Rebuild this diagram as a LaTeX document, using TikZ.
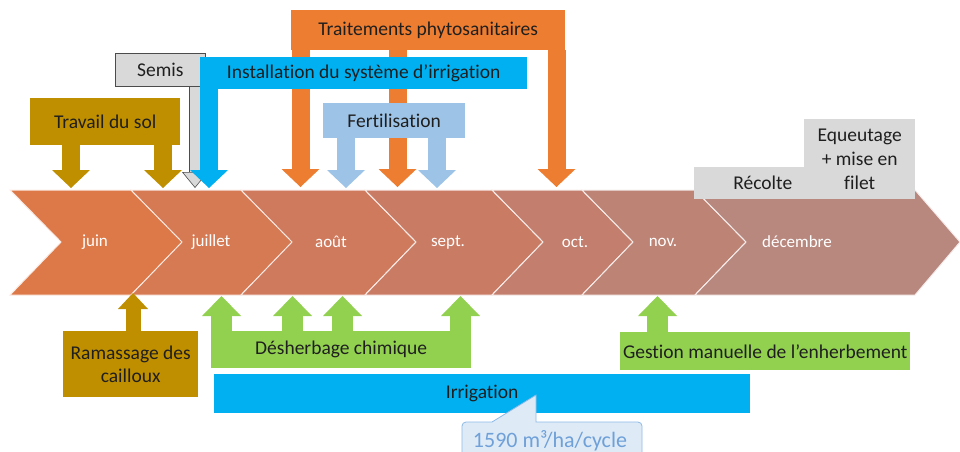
\documentclass[tikz,border=0pt]{standalone}
\usepackage{fontspec}
\setmainfont{Carlito}[Ligatures=NoCommon]
\usetikzlibrary{arrows.meta}
\definecolor{cropGold}{HTML}{BF8F00}
\definecolor{cropGreen}{HTML}{92D050}
\definecolor{cropBlue}{HTML}{00B0F0}
\definecolor{cropOrange}{HTML}{ED7D31}
\definecolor{cropFert}{HTML}{9DC3E6}
\definecolor{cropGray}{HTML}{D9D9D9}
\definecolor{calloutFill}{HTML}{DEEBF7}
\definecolor{calloutLine}{HTML}{8DB9E6}
\definecolor{calloutText}{HTML}{6FA0D8}
\definecolor{mJuin}{HTML}{DD7948}
\definecolor{mJuil}{HTML}{D67A53}
\definecolor{mAout}{HTML}{D07A5D}
\definecolor{mSept}{HTML}{CA7B64}
\definecolor{mOct}{HTML}{C37E6D}
\definecolor{mNov}{HTML}{BD8375}
\definecolor{mDec}{HTML}{B8887F}

\begin{document}
\begin{tikzpicture}[x=1pt, y=-1pt,
  every node/.style={font=\fontsize{19.5}{23}\selectfont, text=black!88, inner sep=0pt},
  taskbox/.style={fill=#1, anchor=north west},
  monthlabel/.style={text=white, font=\fontsize{17}{20}\selectfont},
  fatdown/.style={draw=#1, line width=18pt, -{Triangle[line width=0pt, width=38pt, length=18pt]}},
  fatup/.style={draw=#1, line width=21pt, -{Triangle[line width=0pt, width=39pt, length=20pt]}}]
  \clip (0,0) rectangle (960,451);
  % frise des mois
  \foreach \l/\r/\d/\c in {10/131/52/mJuin, 131/241/52/mJuil, 241/365/51/mAout,
      365/492/51/mSept, 492/582/51/mOct, 582/695/51/mNov, 695/915/45/mDec}
    \filldraw[fill=\c, draw=white!85!\c, line width=1pt]
      (\l,190) -- (\r,190) -- (\r+\d,242) -- (\r,295) -- (\l,295) -- (\l+51,242) -- cycle;
  \node[monthlabel] (juin) at (95,242) {juin};
  \node[monthlabel] (juillet) at (211,242) {juillet};
  \node[monthlabel] (aout) at (331,242) {août};
  \node[monthlabel] (sept) at (448,242) {sept.};
  \node[monthlabel] (oct) at (575,242) {oct.};
  \node[monthlabel] (nov) at (663,242) {nov.};
  \node[monthlabel] (dec) at (797,242) {décembre};

  % interventions au-dessus
  \node[taskbox=cropGold, minimum width=150pt, minimum height=47pt] (travail) at (30,98) {Travail du sol};
  \coordinate (tTa) at (71,188);
  \coordinate (tTb) at (163,188);
  \draw[fatdown=cropGold] (travail.south -| tTa) -- (tTa);
  \draw[fatdown=cropGold] (travail.south -| tTb) -- (tTb);

  \node[taskbox=cropGray, draw=black!70, line width=0.6pt, minimum width=90pt, minimum height=33pt] (semis) at (115,53) {Semis};
  \coordinate (tSe) at (195,188);
  \draw[draw=black!70, line width=0.6pt, double=cropGray, double distance=10pt,
    -{Triangle[width=26pt, length=16pt, line width=0.6pt, fill=cropGray]}] (semis.south -| tSe) -- (tSe);

  \node[taskbox=cropOrange, minimum width=274pt, minimum height=40pt] (traitement) at (291,10) {Traitements phytosanitaires};
  \coordinate (tTr1) at (300.5,187);
  \coordinate (tTr2) at (397.5,187);
  \coordinate (tTr3) at (556.5,187);
  \foreach \t in {tTr1,tTr2,tTr3}
    \draw[fatdown=cropOrange] (traitement.south -| \t) -- (\t);

  \node[taskbox=cropBlue, minimum width=327pt, minimum height=32pt] (installation) at (200,57) {Installation du système d'irrigation};
  \coordinate (tIn) at (209,188);
  \draw[fatdown=cropBlue] (installation.south -| tIn) -- (tIn);

  \node[taskbox=cropFert, minimum width=142pt, minimum height=35pt] (fertilisation) at (323,103) {Fertilisation};
  \coordinate (tF1) at (346,188);
  \coordinate (tF2) at (437,188);
  \draw[fatdown=cropFert] (fertilisation.south -| tF1) -- (tF1);
  \draw[fatdown=cropFert] (fertilisation.south -| tF2) -- (tF2);

  \node[taskbox=cropGray, minimum width=110pt, minimum height=32pt, inner xsep=12pt, text width=86pt, align=right] (recolte) at (694,167) {Récolte};
  \node[taskbox=cropGray, minimum width=111pt, minimum height=80pt, align=center, font=\fontsize{19.5}{24}\selectfont] (equeutage) at (804,119) {Equeutage\\+ mise en\\filet};

  % interventions en dessous
  \node[taskbox=cropGold, minimum width=135pt, minimum height=66pt, align=center, font=\fontsize{19.5}{23}\selectfont] (ramassage) at (63,331) {Ramassage des\\cailloux};
  \coordinate (bR) at (133,293);
  \draw[draw=cropGold, line width=15pt, -{Triangle[line width=0pt, width=30pt, length=16pt]}] (ramassage.north -| bR) -- (bR);

  \node[taskbox=cropGreen, minimum width=260pt, minimum height=37pt] (desherbage) at (211,331) {Désherbage chimique};
  \coordinate (bD1) at (221.5,296);
  \coordinate (bD2) at (292.5,296);
  \coordinate (bD3) at (342.5,296);
  \coordinate (bD4) at (460.5,296);
  \foreach \t in {bD1,bD2,bD3,bD4}
    \draw[fatup=cropGreen] (desherbage.north -| \t) -- (\t);

  \node[taskbox=cropGreen, minimum width=290pt, minimum height=38pt] (gestion) at (620,332) {Gestion manuelle de l’enherbement};
  \coordinate (bG) at (657.5,296);
  \draw[fatup=cropGreen] (gestion.north -| bG) -- (bG);

  \node[taskbox=cropBlue, minimum width=536pt, minimum height=39pt] (irrigation) at (214,374) {Irrigation};
  \coordinate (pointe) at (536,395);
  \filldraw[fill=calloutFill, draw=calloutLine, line width=0.8pt]
    (462,470) [rounded corners=4pt] -- (462,422) [sharp corners] -- (492,422) -- (pointe)
    -- (536,422) [rounded corners=4pt] -- (642,422) -- (642,470);
  \node[text=calloutText, font=\fontsize{22}{26}\selectfont] (volume) at (550,441) {1590 m³/ha/cycle};
\end{tikzpicture}
\end{document}
